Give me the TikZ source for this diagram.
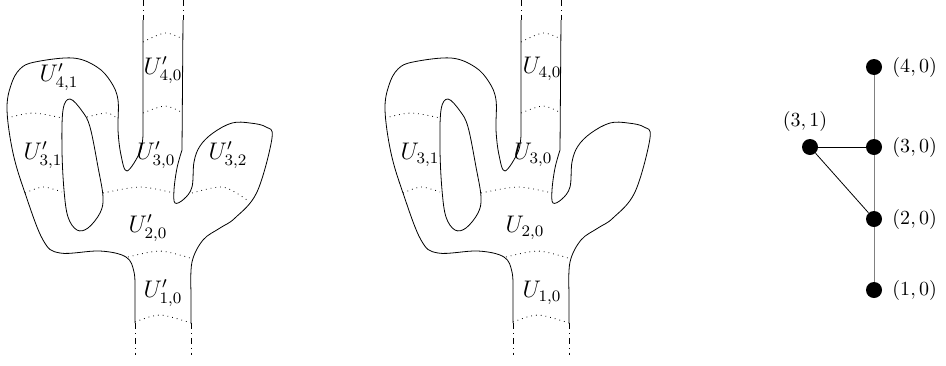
\documentclass[tikz,border=0pt]{standalone}
\usepackage{amsmath,amssymb}
\usepackage{tikz}

\tikzset{
  cut/.style={dotted},
  stub/.style={dash dot},
  piece/.style={font=\large},
  vtx/.style={circle, fill, inner sep=0pt, minimum size=8pt},
}

% one copy of the branching tube (outline, hole, common cuts)
\newcommand{\cactus}{%
  \draw (143,20) -- plot[smooth, tension=0.6] coordinates {
    (143,135) (140,152) (127,171) (121,155) (118,130) (118,100)
    (111,82) (97,67) (73,58) (35,62) (20,69) (11,85) (7,110) (13,153)
    (25,193) (43,240) (60,253) (100,251) (126,257) (134,272) (135,292)
  } -- (135,323);
  \draw (191,323) -- plot[smooth, tension=0.6] coordinates {
    (191,292) (192,262) (203,240) (220,228) (235,218) (257,192)
    (272,138) (266,127) (250,123) (232,123) (213,133) (200,146)
    (194,162) (192,187) (184,199) (175,203) (174,190) (177,168) (182,150)
  } -- (183,20);
  \draw plot[smooth cycle, tension=0.6] coordinates {
    (70,99) (63,110) (62,150) (64,190) (68,217) (77,230) (88,228)
    (100,213) (103,197) (98,167) (90,127) (82,111)
  };
  \draw[stub] (143,0) -- (143,20);
  \draw[stub] (183,0) -- (183,20);
  \draw[stub] (135,323) -- (135,355);
  \draw[stub] (191,323) -- (191,355);
  \draw[cut] plot[smooth] coordinates {(143,42) (165,33) (183,39)};
  \draw[cut] plot[smooth] coordinates {(143,113) (165,106) (183,113)};
  \draw[cut] plot[smooth] coordinates {(7,118) (33,113) (62,118)};
  \draw[cut] plot[smooth] coordinates {(25,193) (43,187) (62,192)};
  \draw[cut] plot[smooth] coordinates {(103,193) (140,187) (174,193)};
  \draw[cut] plot[smooth] coordinates {(128,257) (160,251) (190,258)};
  \draw[cut] plot[smooth] coordinates {(135,322) (160,315) (191,323)};
}

\begin{document}
\begin{tikzpicture}[x=0.5pt, y=-0.5pt]
  \useasboundingbox (0,0) rectangle (946,365);

  \cactus
  \draw[cut] plot[smooth] coordinates {(87,117) (107,113) (118,119)};
  \draw[cut] plot[smooth] coordinates {(192,193) (223,187) (247,200)};
  \node[piece] (a41) at (59,77) {$U'_{4,1}$};
  \node[piece] (a40) at (163,70) {$U'_{4,0}$};
  \node[piece] (a31) at (43,155) {$U'_{3,1}$};
  \node[piece] (a30) at (156,155) {$U'_{3,0}$};
  \node[piece] (a32) at (228,155) {$U'_{3,2}$};
  \node[piece] (a20) at (148,228) {$U'_{2,0}$};
  \node[piece] (a10) at (163,293) {$U'_{1,0}$};

  \begin{scope}[shift={(378,0)}]
    \cactus
    \node[piece] (b40) at (164,69) {$U_{4,0}$};
    \node[piece] (b31) at (42,155) {$U_{3,1}$};
    \node[piece] (b30) at (155,155) {$U_{3,0}$};
    \node[piece] (b20) at (147,228) {$U_{2,0}$};
    \node[piece] (b10) at (164,293) {$U_{1,0}$};
  \end{scope}

  % graph of the pieces
  \node[vtx, label={[label distance=1.5pt]right:$(4,0)$}] (v40) at (874,67) {};
  \node[vtx, label={[label distance=1.5pt]right:$(3,0)$}] (v30) at (874,147) {};
  \node[vtx, label={[label distance=1.5pt]right:$(2,0)$}] (v20) at (874,219) {};
  \node[vtx, label={[label distance=1.5pt]right:$(1,0)$}] (v10) at (874,290) {};
  \node[vtx, label={[xshift=-2.5pt]above:$(3,1)$}] (v31) at (810,147) {};
  \draw[gray] (v40) -- (v30) -- (v20) -- (v10);
  \draw (v31) -- (v30);
  \draw (v31) -- (v20);
\end{tikzpicture}
\end{document}
